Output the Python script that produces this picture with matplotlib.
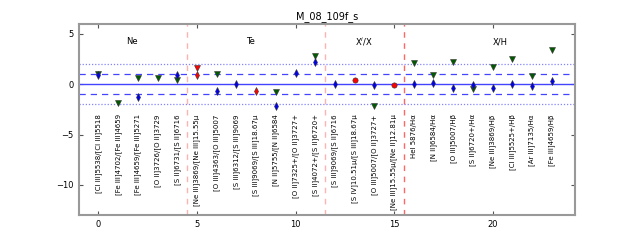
import matplotlib
matplotlib.use("Agg")
import matplotlib.pyplot as plt

title = "M_08_109f_s"
labels = [
    "[Cl III]5538/[Cl III]5518", "[Fe III]4702/[Fe III]4659", "[Fe III]4659/[Fe III]5271",
    "[O II]3726/[O II]3729", "[S II]6731/[S II]6716", "[Ne III]3869/[Ne III]15.55\u03bc",
    "[O III]4363/[O III]5007", "[S III]6312/[S III]9069", "[S III]9069/[S III]18.67\u03bc",
    "[N II]5755/[N II]6584", "[O II]7325+/[O II]3727+", "[S II]4072+/[S II]6720+",
    "[S III]9069/[S II]6716", "[S IV]10.51\u03bc/[S III]18.67\u03bc", "[O III]5007/[O II]3727+",
    "[Ne III]15.55\u03bc/[Ne II]12.81\u03bc", "HeI 5876/H\u03b1", "[N II]6584/H\u03b1",
    "[O III]5007/H\u03b2", "[S II]6720+/H\u03b1", "[Ne III]3869/H\u03b2",
    "[Cl III]5525+/H\u03b2", "[Ar III]7135/H\u03b1", "[Fe III]4659/H\u03b2",
]
blue_x = [0, 2, 4, 6, 7, 9, 10, 11, 12, 14, 16, 17, 18, 19, 20, 21, 22, 23]
blue_y = [0.95, -1.32, 0.93, -0.66, -0.03, -2.14, 1.1, 2.25, 0.05, -0.06, 0.04, 0.1, -0.39, -0.12, -0.42, 0.04, -0.16, 0.3]
green_x = [0, 1, 2, 3, 4, 6, 9, 11, 14, 16, 17, 18, 19, 20, 21, 22, 23]
green_y = [1.0, -1.87, 0.66, 0.66, 0.44, 1.0, -0.82, 2.8, -2.2, 2.15, 0.95, 2.19, -0.49, 1.66, 2.52, 0.86, 3.4]
red_d_x = [5, 8]
red_d_y = [0.93, -0.72]
red_t_x = [5]
red_t_y = [1.6]
red_o_x = [13, 15]
red_o_y = [0.37, -0.13]
group_names = ["Ne", "Te", "X$^{i}$/X", "X/H"]
group_x = [1.7, 7.7, 13.45, 20.4]
separators = [4.5, 11.5, 15.5]
sep_alpha = [0.3, 0.3, 0.6]

fig = plt.figure(figsize=(6.4, 2.4), dpi=100)
ax = fig.add_axes([0.123, 0.104, 0.776, 0.797])

ax.axhline(0, color="#4444ff", lw=1.0)
for v in (1, -1):
    ax.axhline(v, color="#4444ff", lw=0.9, ls=(0, (5, 4)))
for v in (2, -2):
    ax.axhline(v, color="#6666ff", lw=0.9, ls=(0, (1, 1.5)), alpha=0.8)
for s, a in zip(separators, sep_alpha):
    ax.axvline(s, color="red", lw=1.0, ls=(0, (4, 4)), alpha=a)

ms = 3.8
ax.plot(green_x, green_y, "v", color="#005a00", mec="#333333", mew=0.4, ms=ms, ls="none")
ax.plot(blue_x, blue_y, "d", color="#0000ee", mec="#333333", mew=0.4, ms=ms, ls="none")
ax.plot(red_d_x, red_d_y, "d", color="red", mec="#333333", mew=0.4, ms=ms, ls="none")
ax.plot(red_t_x, red_t_y, "v", color="red", mec="#333333", mew=0.4, ms=ms, ls="none")
ax.plot(red_o_x, red_o_y, "o", color="red", mec="#333333", mew=0.4, ms=ms, ls="none")

for i, lab in enumerate(labels):
    ax.text(i, -3.0, lab, rotation=90, ha="center", va="top", fontsize=5.0)
for name, gx in zip(group_names, group_x):
    ax.text(gx, 4.2, name, ha="center", va="center", fontsize=6)

ax.set_xlim(-1, 24.2)
ax.set_ylim(-13, 6)
ax.set_xticks([0, 5, 10, 15, 20])
ax.set_yticks([-10, -5, 0, 5])
ax.set_yticklabels(["\u221210", "\u22125", "0", "5"])
ax.tick_params(direction="in", top=True, right=True, labelsize=6, length=3, color="#555555")
for sp in ax.spines.values():
    sp.set_color("#999999")
    sp.set_linewidth(1.5)
ax.set_title(title, fontsize=7, pad=3)

fig.savefig("out.png", dpi=100)
